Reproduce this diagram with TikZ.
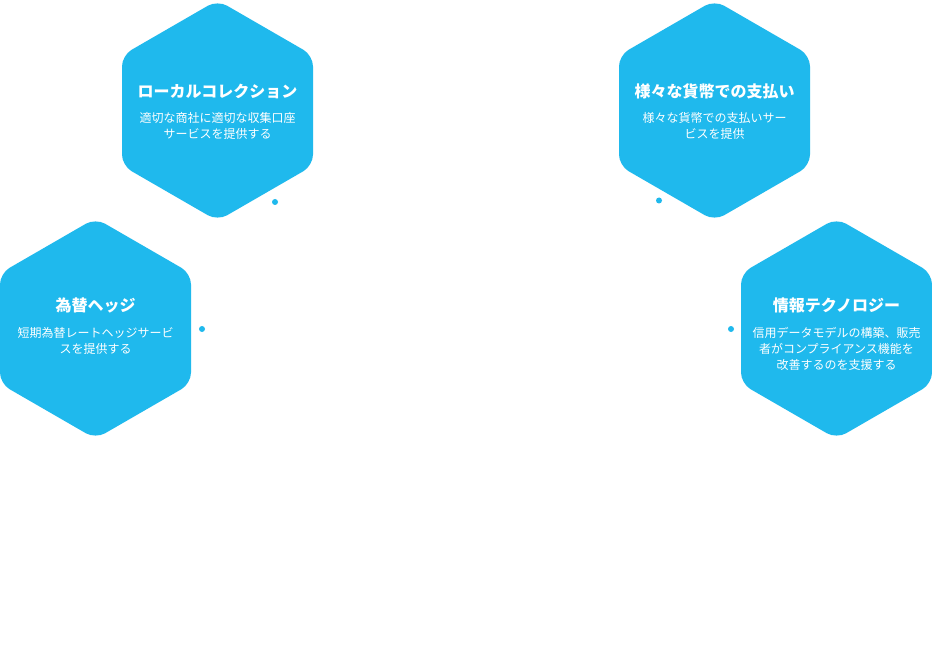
\documentclass[tikz,border=0pt]{standalone}
\usepackage{fontspec}
\setmainfont{Noto Sans CJK JP}
\definecolor{hexblue}{RGB}{31,185,237}
\tikzset{
  hexfill/.style={fill=hexblue, rounded corners=11pt},
  hextitle/.style={text=white, inner sep=0pt, anchor=base, font=\fontsize{16}{19}\selectfont\bfseries},
  hexbody/.style={text=white, inner sep=0pt, anchor=base, align=center, font=\fontsize{12}{15.7}\selectfont},
  hexdot/.style={fill=hexblue, draw=none}
}
\newcommand{\hexshape}[2]{%
  \fill[hexfill] (#1+95.5,#2-55.15) -- (#1,#2-110.3) -- (#1-95.5,#2-55.15) -- (#1-95.5,#2+55.15) -- (#1,#2+110.3) -- (#1+95.5,#2+55.15) -- cycle;}
\begin{document}
\begin{tikzpicture}[x=1pt,y=-1pt]
\useasboundingbox (0,0) rectangle (932,655);
\fill[white] (0,0) rectangle (932,655);
% hexagons
\hexshape{217.5}{110.5}
\hexshape{714.5}{110.5}
\hexshape{95.5}{328.5}
\hexshape{836.5}{328.5}
% texts (body nodes are anchored at the baseline of their last line)
\node[hextitle] (t1) at (217.5,97.5) {ローカルコレクション};
\node[hexbody] (b1) at (217.5,138.5) {適切な商社に適切な収集口座\\サービスを提供する};
\node[hextitle] (t2) at (714.5,97.5) {様々な貨幣での支払い};
\node[hexbody] (b2) at (714.5,138.5) {様々な貨幣での支払いサー\\ビスを提供};
\node[hextitle] (t3) at (95.5,312) {為替ヘッジ};
\node[hexbody] (b3) at (95.5,353.3) {短期為替レートヘッジサービ\\スを提供する};
\node[hextitle] (t4) at (836.5,312) {情報テクノロジー};
\node[hexbody] (b4) at (836.5,369.2) {信用データモデルの構築、販売\\者がコンプライアンス機能を\\改善するのを支援する};
% dots
\fill[hexdot] (275,202) circle (3pt) coordinate (d1);
\fill[hexdot] (659,200.5) circle (3pt) coordinate (d2);
\fill[hexdot] (202,329) circle (3pt) coordinate (d3);
\fill[hexdot] (731,329) circle (3pt) coordinate (d4);
\end{tikzpicture}
\end{document}
